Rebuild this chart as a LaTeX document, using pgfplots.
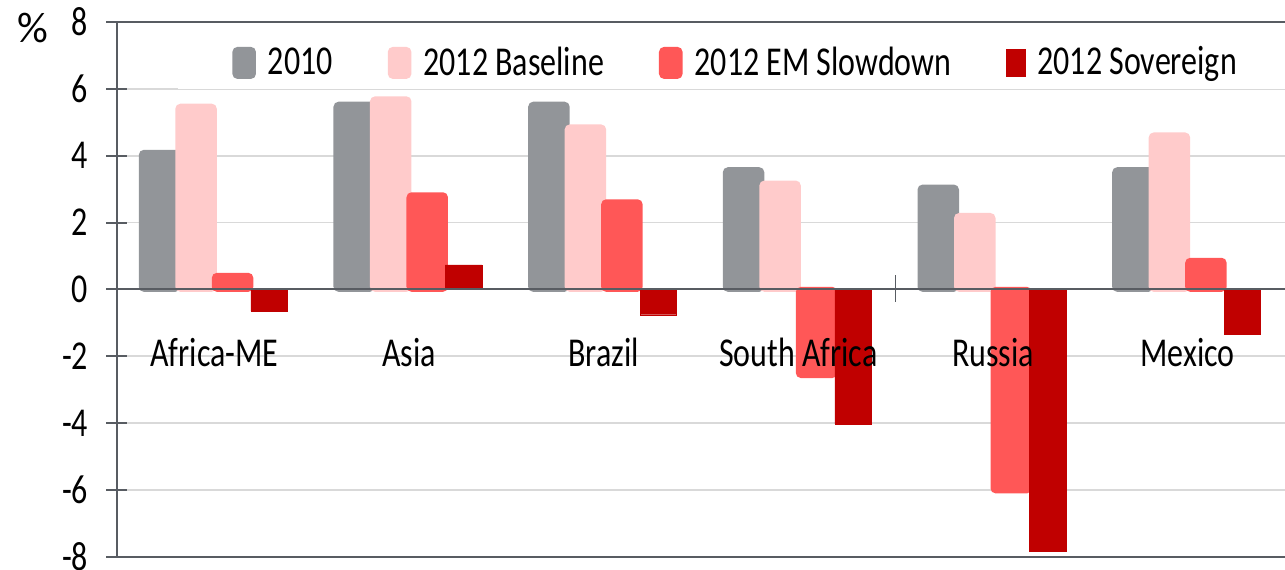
\documentclass[border=0pt]{standalone}
\usepackage{fontspec}
\setmainfont{Carlito}[FakeStretch=0.78]
\newfontfamily\unitfont{Carlito}
\usepackage{pgfplots}
\pgfplotsset{compat=1.18}

\definecolor{cGray}{RGB}{146,149,153}
\definecolor{cPink}{RGB}{255,203,203}
\definecolor{cRed}{RGB}{255,87,87}
\definecolor{cDark}{RGB}{192,0,0}
\definecolor{axisDark}{RGB}{88,92,98}
\definecolor{gridLight}{RGB}{217,217,217}

\pgfplotsset{
  frame/.style={
    at={(0,0)}, anchor=south west,
    width=584pt, height=267.35pt, scale only axis,
    xmin=-0.5, xmax=5.5, ymin=-8, ymax=8,
  },
}

\begin{document}
\fontsize{20.5}{24}\selectfont
\begin{tikzpicture}
% background: horizontal grid, darker frame lines at +-8
\begin{axis}[
  frame,
  axis line style={draw=none},
  xtick=\empty,
  ytick={-6,-4,...,6}, yticklabels={},
  extra y ticks={-8,8}, extra y tick labels={},
  extra y tick style={grid style={draw=axisDark, line width=1pt}},
  ymajorgrids,
  grid style={draw=gridLight, line width=0.9pt},
  tick style={draw=none},
]
\end{axis}
% foreground: bars, axis lines, tick labels and legend
\begin{axis}[
  frame, clip=false,
  axis on top,
  axis y line*=left, axis x line*=middle,
  hide obscured x ticks=false, hide obscured y ticks=false,
  axis line style={-, draw=axisDark, line width=1pt},
  /pgf/number format/assume math mode=true,
  ytick={-8,-6,...,8},
  ytick style={draw=axisDark, line width=1pt},
  tick align=center, major tick length=10.5pt,
  yticklabel style={anchor=east, inner sep=0pt, xshift=-9pt},
  xtick={0,...,5},
  xticklabels={Africa-ME,Asia,Brazil,South Africa,Russia,Mexico},
  xticklabel style={anchor=base, inner sep=0pt, yshift=-28.15pt},
  xtick style={draw=none},
  ybar, bar width=18.25pt,
  legend image code/.code={\draw[#1] (0pt,-6.25pt) rectangle (9.3pt,7.25pt);},
  legend columns=4,
  legend style={at={(rel axis cs:0.0522,0.9216)}, anchor=west,
    draw=none, fill=white, inner xsep=27pt, inner ysep=4pt,
    nodes={inner sep=0pt},
    /tikz/every odd column/.append style={column sep=6pt},
    /tikz/every even column/.append style={column sep=27.5pt}},
]
\addplot[fill=cGray, draw=cGray, line width=2.5pt, rounded corners=1.5pt, bar shift=-27.375pt]
  coordinates {(0,4.1) (1,5.54) (2,5.54) (3,3.58) (4,3.06) (5,3.58)};
\addplot[fill=cPink, draw=cPink, line width=2.5pt, rounded corners=1.5pt, bar shift=-9.125pt]
  coordinates {(0,5.48) (1,5.7) (2,4.86) (3,3.18) (4,2.21) (5,4.62)};
\addplot[fill=cRed, draw=cRed, line width=2.5pt, rounded corners=1.5pt, bar shift=9.125pt]
  coordinates {(0,0.42) (1,2.83) (2,2.62) (3,-2.58) (4,-6.03) (5,0.87)};
\addplot[fill=cDark, draw=cDark, line width=0.2pt, bar shift=27.375pt]
  coordinates {(0,-0.65) (1,0.73) (2,-0.76) (3,-4.03) (4,-7.84) (5,-1.34)};
\legend{2010,2012 Baseline,2012 EM Slowdown,2012 Sovereign}
% category separator tick between South Africa and Russia
\draw[axisDark, line width=0.6pt] (axis cs:3.5,-0.37) -- (axis cs:3.5,0.44);
\node[anchor=base west, inner sep=0pt, xshift=-50pt, yshift=-10.5pt,
  font=\unitfont\fontsize{21.5}{24}\selectfont] at (rel axis cs:0,1) {\%};
\end{axis}
\pgfresetboundingbox
\path[use as bounding box] (-58.5pt,-6.15pt) rectangle (584pt,278.35pt);
\end{tikzpicture}
\end{document}
